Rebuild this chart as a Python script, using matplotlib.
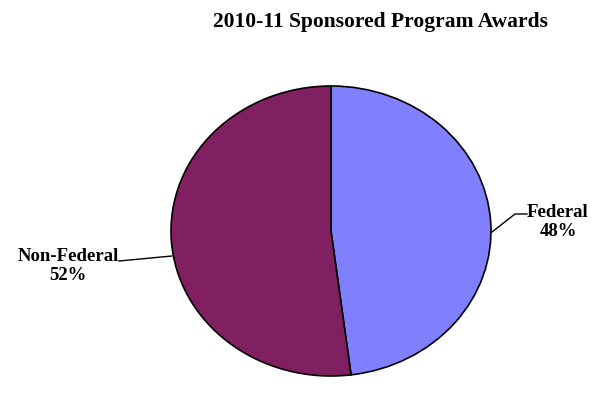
import matplotlib
matplotlib.use("Agg")
import matplotlib.pyplot as plt

categories = ["Federal", "Non-Federal"]
values = [48, 52]
colors = ["#8080FF", "#802060"]
title = "2010-11 Sponsored Program Awards"

W, H = 594, 406
fig = plt.figure(figsize=(W / 100, H / 100), dpi=100)
plt.rcParams['font.family'] = ['Liberation Serif', 'DejaVu Serif']

# pie bounding box in pixels (ellipse)
x0, x1, ytop, ybot = 171, 491, 87, 377
ax = fig.add_axes([x0 / W, (H - ybot) / H, (x1 - x0) / W, (ybot - ytop) / H])
wedges, _ = ax.pie(values, colors=colors, startangle=90, counterclock=False,
                   radius=1.0, wedgeprops=dict(edgecolor="black", linewidth=1.2))
ax.set_xlim(-1, 1)
ax.set_ylim(-1, 1)
ax.set_aspect('auto')
ax.axis('off')
for w in wedges:
    w.set_clip_on(False)

cx, cy, rx, ry = 331, 232, 160, 145
def to_data(px, py):
    return ((px - cx) / rx, (cy - py) / ry)

labels = [f"{c}\n{v}%" for c, v in zip(categories, values)]

# Federal label
fx, fy = to_data(558, 222)
ax.text(fx, fy, labels[0], ha='center', va='center', fontsize=13.5,
        fontweight='bold', linespacing=1.2)
p = [to_data(492, 233), to_data(515, 215), to_data(527, 215)]
ax.plot([q[0] for q in p], [q[1] for q in p], color='black', lw=1, clip_on=False)

# Non-Federal label
nx, ny = to_data(68, 266)
ax.text(nx, ny, labels[1], ha='center', va='center', fontsize=13.5,
        fontweight='bold', linespacing=1.2)
p = [to_data(119, 262), to_data(172, 257)]
ax.plot([q[0] for q in p], [q[1] for q in p], color='black', lw=1, clip_on=False)

fig.text(380 / W, 1 - 22 / H, title, ha='center', va='center', fontsize=15.5,
         fontweight='bold')

fig.savefig("out.png", dpi=100, facecolor='white')
